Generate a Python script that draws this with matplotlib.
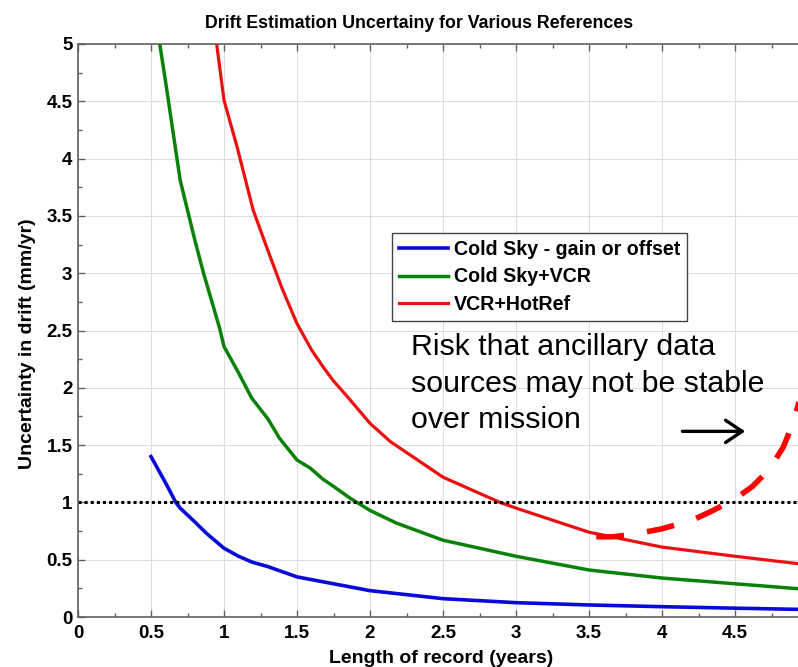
import matplotlib
matplotlib.use("Agg")
import matplotlib.pyplot as plt
from matplotlib.ticker import MultipleLocator, FuncFormatter
from matplotlib.patches import FancyArrowPatch

# ---------------- data ----------------
title = "Drift Estimation Uncertainy for Various References"
xlabel = "Length of record (years)"
ylabel = "Uncertainty in drift (mm/yr)"
series_names = ["Cold Sky - gain or offset", "Cold Sky+VCR", "VCR+HotRef"]

cold_x = [0.5, 0.6, 0.67, 0.7, 0.8, 0.88, 1.0, 1.1, 1.19, 1.3, 1.5, 1.75,
          2.0, 2.5, 3.0, 3.5, 4.0, 4.5, 5.0]
cold_y = [1.40, 1.17, 1.00, 0.95, 0.83, 0.73, 0.60, 0.53, 0.48, 0.44, 0.35,
          0.29, 0.23, 0.16, 0.125, 0.105, 0.09, 0.077, 0.065]

vcr_x = [0.56, 0.6, 0.7, 0.8, 0.86, 0.97, 1.0, 1.1, 1.19, 1.3, 1.38, 1.5,
         1.59, 1.68, 1.75, 1.86, 2.0, 2.18, 2.5, 3.0, 3.5, 4.0, 4.5, 5.0]
vcr_y = [5.0, 4.67, 3.81, 3.29, 3.0, 2.52, 2.36, 2.13, 1.91, 1.73, 1.56, 1.37,
         1.30, 1.20, 1.14, 1.04, 0.93, 0.82, 0.67, 0.53, 0.41, 0.34, 0.29, 0.24]

hot_x = [0.95, 0.97, 1.0, 1.09, 1.2, 1.3, 1.4, 1.5, 1.6, 1.68, 1.75, 1.84,
         2.0, 2.14, 2.5, 2.89, 3.0, 3.5, 4.0, 4.5, 5.0]
hot_y = [5.0, 4.80, 4.51, 4.10, 3.55, 3.20, 2.86, 2.56, 2.33, 2.18, 2.06, 1.93,
         1.69, 1.53, 1.22, 1.00, 0.95, 0.74, 0.61, 0.53, 0.455]

threshold = 1.0

risk_x = [3.55, 3.66, 3.8, 4.0, 4.2, 4.35, 4.5, 4.62, 4.73, 4.83, 4.9, 4.95, 5.0]
risk_y = [0.70, 0.70, 0.72, 0.77, 0.84, 0.93, 1.03, 1.14, 1.28, 1.48, 1.70, 1.93, 2.2]

note_lines = ["Risk that ancillary data", "sources may not be stable", "over mission"]
note_x = 2.28
note_y = [2.286, 1.966, 1.647]
arrow_start = (4.14, 1.62)
arrow_end = (4.57, 1.62)

xticks = [0, 0.5, 1, 1.5, 2, 2.5, 3, 3.5, 4, 4.5]
yticks = [0, 0.5, 1, 1.5, 2, 2.5, 3, 3.5, 4, 4.5, 5]

# ---------------- figure ----------------
plt.rcParams["font.family"] = ["Liberation Sans", "DejaVu Sans"]
plt.rcParams["font.weight"] = "bold"

W, H = 798, 667
fig = plt.figure(figsize=(W / 100, H / 100), dpi=100)
ax = fig.add_axes([78 / W, 50 / H, 730 / W, 573 / H])

ax.plot(cold_x, cold_y, color="#0a0ad8", lw=2.6, label=series_names[0])
ax.plot(vcr_x, vcr_y, color="#0a820a", lw=2.5, label=series_names[1])
ax.plot(hot_x, hot_y, color="#ec1010", lw=2.3, label=series_names[2])

ax.axhline(threshold, color="black", lw=2.2, linestyle=(0, (1, 1)))

ax.plot(risk_x, risk_y, color="#ff0000", lw=4.0, linestyle=(0, (5.0, 4.2)),
        dash_capstyle="butt")

ax.set_xlim(0, 5)
ax.set_ylim(0, 5)
ax.set_xticks(xticks)
ax.set_yticks(yticks)
ax.xaxis.set_minor_locator(MultipleLocator(0.25))
ax.yaxis.set_minor_locator(MultipleLocator(0.25))
fmt = FuncFormatter(lambda v, p: f"{v:g}")
ax.xaxis.set_major_formatter(fmt)
ax.yaxis.set_major_formatter(fmt)

ax.grid(True, which="major", color="#dedede", lw=0.8)
ax.set_axisbelow(True)

ax.tick_params(which="both", direction="in", top=True, right=True,
               color="#606060", width=1.0)
ax.tick_params(which="major", length=5, labelsize=13.5)
ax.tick_params(which="minor", length=3)
ax.tick_params(axis="x", pad=6)
ax.tick_params(axis="y", pad=4)
for s in ax.spines.values():
    s.set_color("#606060")
    s.set_linewidth(1.2)

ax.set_xlabel(xlabel, fontsize=14, fontweight="bold")
ax.xaxis.label.set_va("baseline")
ax.xaxis.set_label_coords(0.497, -(663 - 617) / 573)
ax.set_ylabel(ylabel, fontsize=14, fontweight="bold")
ax.yaxis.label.set_va("center")
ax.yaxis.label.set_ha("center")
ax.yaxis.set_label_coords(-(78 - 28) / 730, (617 - 344) / 573)

fig.text(419 / W, 1 - 28 / H, title, ha="center", va="baseline",
         fontsize=12.8, fontweight="bold")

leg = ax.legend(loc="upper left", bbox_to_anchor=(0.430, 0.670),
                borderaxespad=0, fancybox=False, edgecolor="#444444",
                framealpha=1, prop=dict(weight="bold", size=14.1),
                handlelength=2.5, handletextpad=0.3, labelspacing=0.42,
                borderpad=0.36)
leg.get_frame().set_linewidth(1.0)

for line, y in zip(note_lines, note_y):
    ax.text(note_x, y, line, fontsize=21.8, fontweight="normal", color="black",
            ha="left", va="baseline")

ax.add_patch(FancyArrowPatch(arrow_start, arrow_end,
                             arrowstyle="->,head_length=0.6,head_width=0.4",
                             mutation_scale=20, lw=2.4, color="black",
                             shrinkA=0, shrinkB=0))

fig.savefig("out.png", dpi=100)
